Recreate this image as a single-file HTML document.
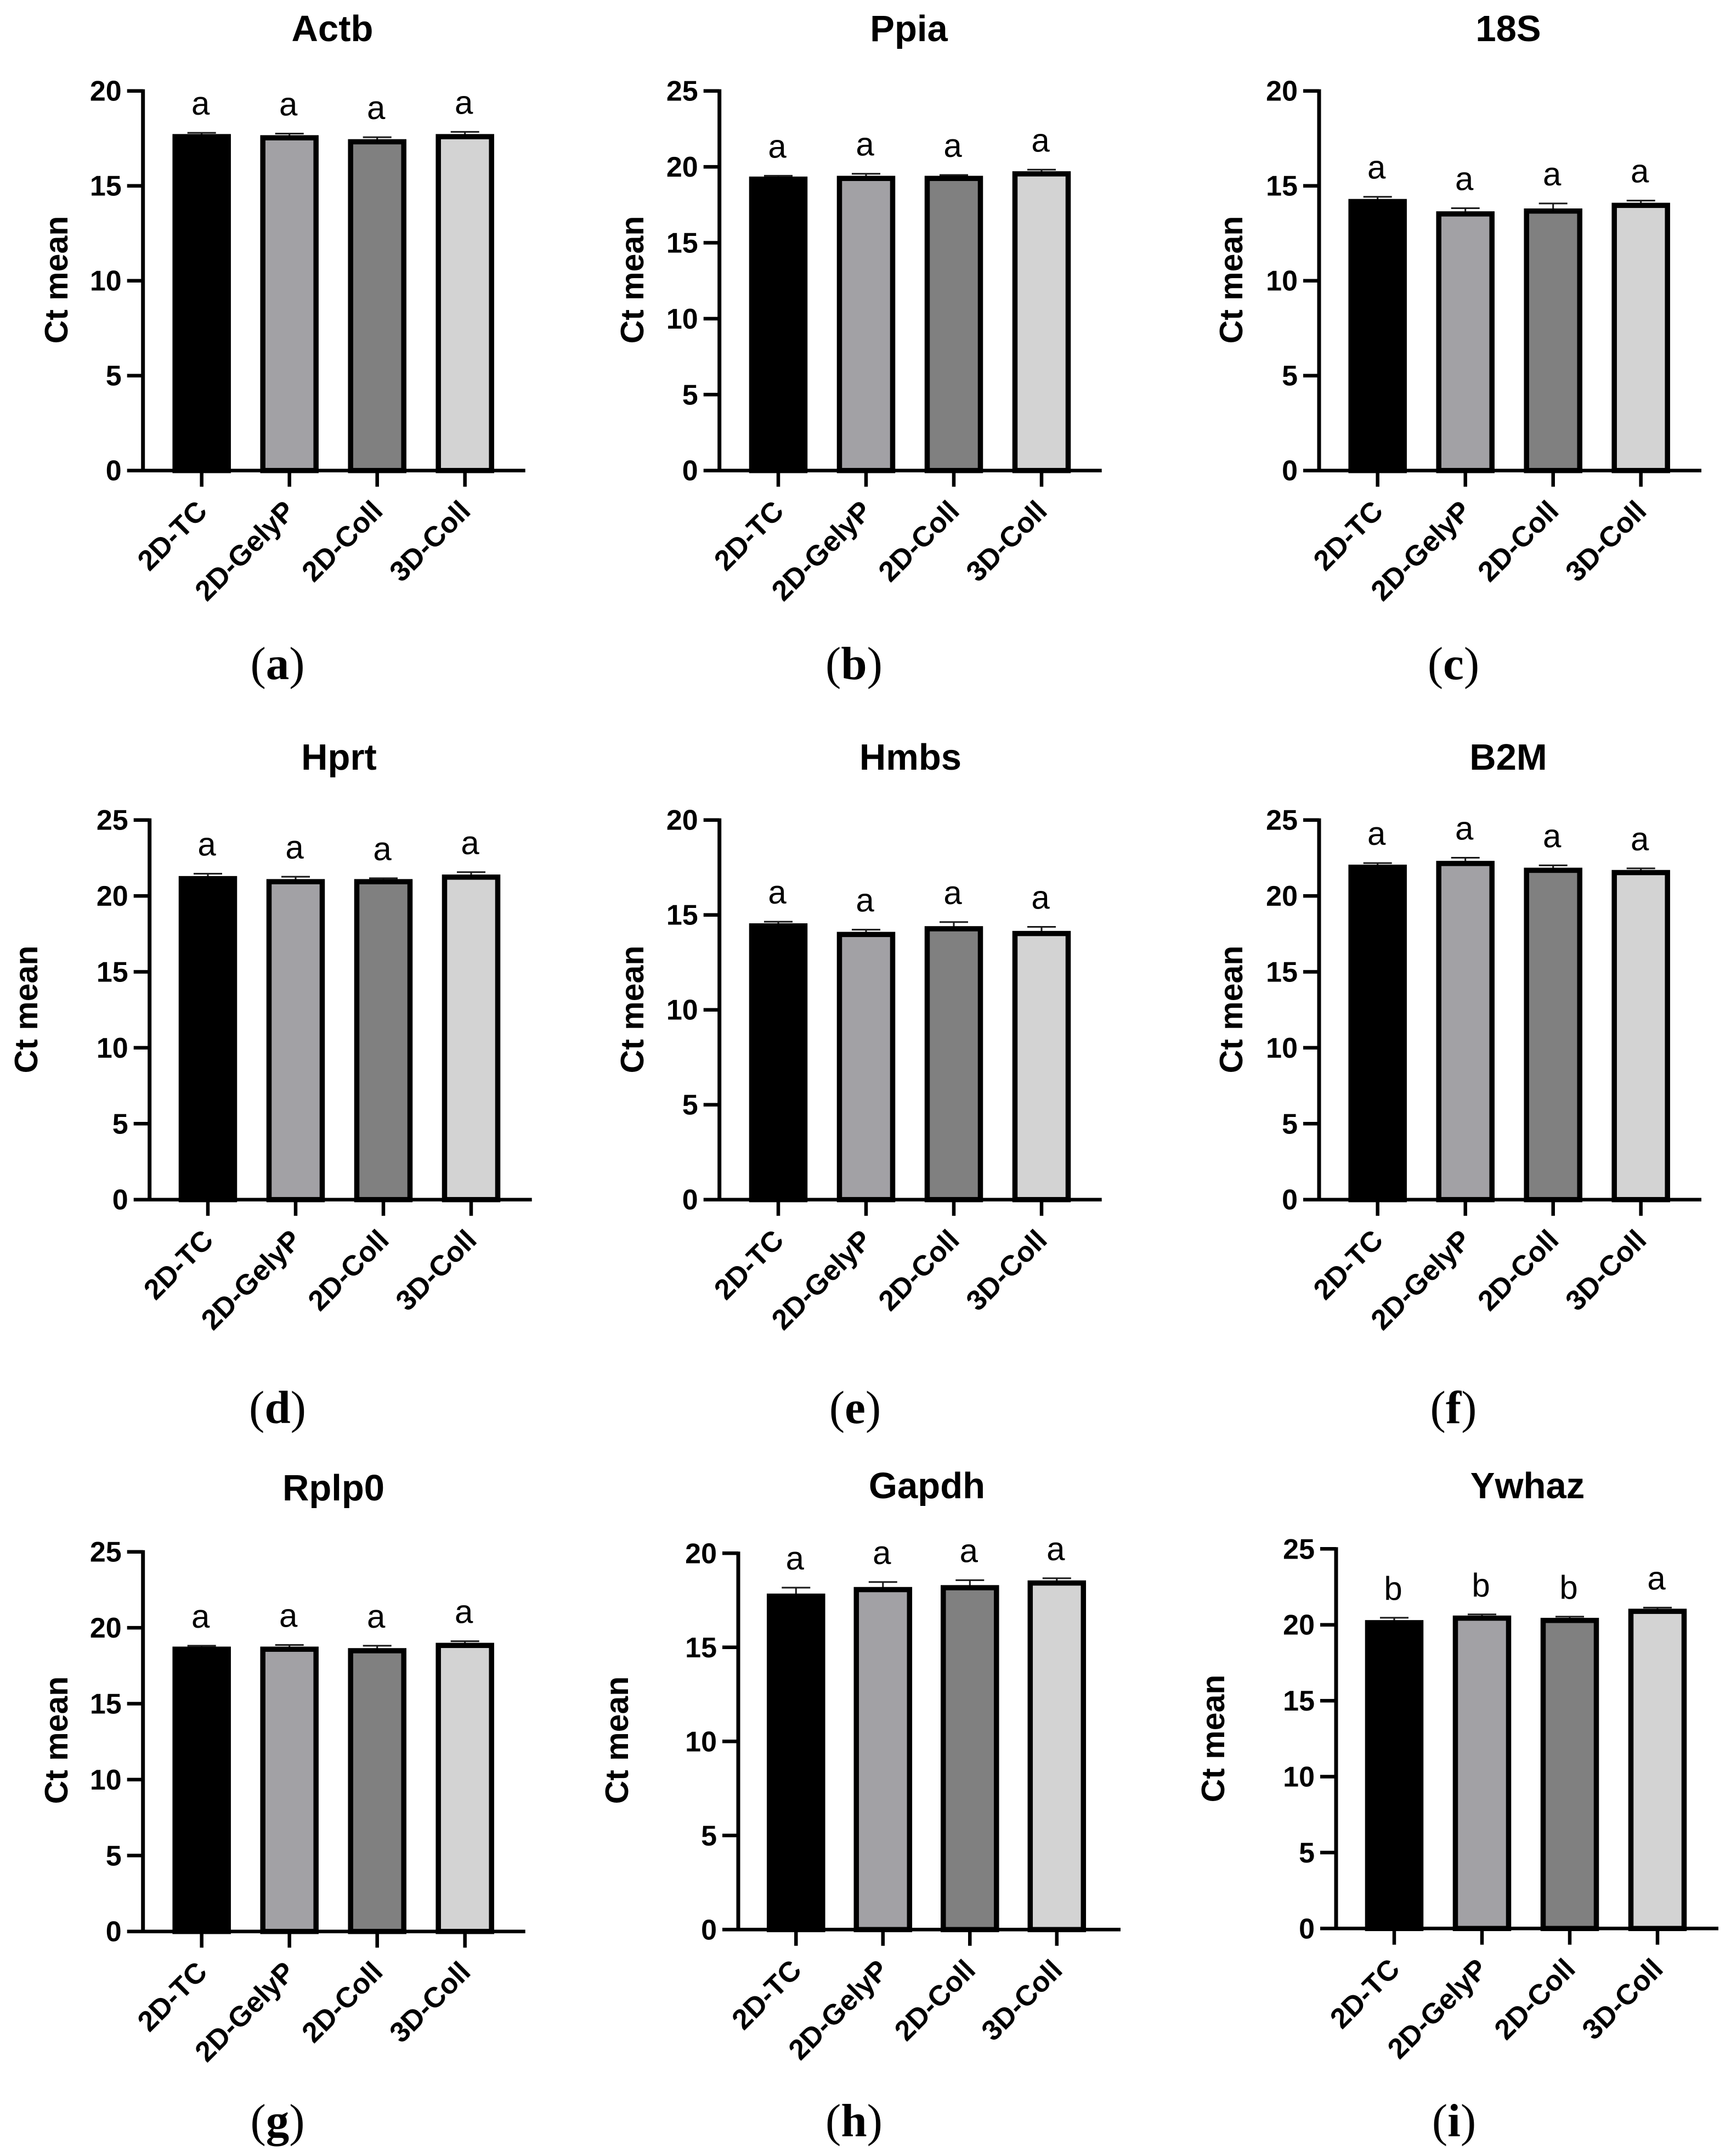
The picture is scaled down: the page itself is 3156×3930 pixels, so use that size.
<!DOCTYPE html>
<html lang="en">
<head>
<meta charset="utf-8">
<title>Ct mean of candidate reference genes</title>
<style>
html,body{margin:0;padding:0;background:#fff;}
svg{display:block;}
.sans{font-family:"Liberation Sans",Arial,sans-serif;}
.serif{font-family:"Liberation Serif","Times New Roman",serif;}
</style>
</head>
<body>
<svg id="figure" xmlns="http://www.w3.org/2000/svg" width="3156" height="3930" viewBox="0 0 3156 3930"></svg>
<script>
var categories = ['2D-TC', '2D-GelyP', '2D-Coll', '3D-Coll'];
var ticks20 = [0, 5, 10, 15, 20];
var ticks25 = [0, 5, 10, 15, 20, 25];

var actbValues = [17.72, 17.66, 17.45, 17.72];
var actbErrors = [0.1, 0.12, 0.14, 0.15];
var actbLetters = ['a', 'a', 'a', 'a'];

var ppiaValues = [19.35, 19.4, 19.4, 19.7];
var ppiaErrors = [0.1, 0.18, 0.1, 0.15];
var ppiaLetters = ['a', 'a', 'a', 'a'];

var s18Values = [14.3, 13.65, 13.8, 14.1];
var s18Errors = [0.15, 0.2, 0.3, 0.15];
var s18Letters = ['a', 'a', 'a', 'a'];

var hprtValues = [21.3, 21.1, 21.1, 21.4];
var hprtErrors = [0.2, 0.2, 0.1, 0.2];
var hprtLetters = ['a', 'a', 'a', 'a'];

var hmbsValues = [14.55, 14.1, 14.4, 14.15];
var hmbsErrors = [0.12, 0.15, 0.25, 0.25];
var hmbsLetters = ['a', 'a', 'a', 'a'];

var b2mValues = [22.05, 22.3, 21.85, 21.7];
var b2mErrors = [0.15, 0.25, 0.2, 0.15];
var b2mLetters = ['a', 'a', 'a', 'a'];

var rplp0Values = [18.75, 18.75, 18.65, 19.0];
var rplp0Errors = [0.1, 0.15, 0.2, 0.15];
var rplp0Letters = ['a', 'a', 'a', 'a'];

var gapdhValues = [17.85, 18.2, 18.3, 18.55];
var gapdhErrors = [0.35, 0.3, 0.3, 0.15];
var gapdhLetters = ['a', 'a', 'a', 'a'];

var ywhazValues = [20.3, 20.6, 20.45, 21.05];
var ywhazErrors = [0.2, 0.12, 0.12, 0.12];
var ywhazLetters = ['b', 'b', 'b', 'a'];

var barFills = ['#000000', '#a2a1a5', '#808080', '#d3d3d3'];

var svg = document.getElementById('figure');
var NS = 'http://www.w3.org/2000/svg';

function make(tag, attrs, parent, text) {
  var node = document.createElementNS(NS, tag);
  for (var k in attrs) { node.setAttribute(k, attrs[k]); }
  if (text !== undefined) { node.textContent = text; }
  parent.appendChild(node);
  return node;
}

function drawPanel(p) {
  var g = make('g', {}, svg);
  
  

  var step = p.step || 160;
  var maxVal = p.ticks[p.ticks.length - 1];
  var yScale = function (v) { return p.y0 - v / maxVal * p.len; };
  var xScale = function (i) { return p.tick0 + i * step; };

  // bars and error bars
  p.values.forEach(function (v, i) {
    var cx = xScale(i), top = yScale(v), errTop = yScale(v + p.errors[i]);
    var whisker = make('line', {x1: cx, x2: cx, y1: top, y2: errTop, stroke: '#1a1a1a', 'stroke-width': 3}, g);
    
    
    var cap = make('line', {x1: cx - 26, x2: cx + 26, y1: errTop + 1, y2: errTop + 1, stroke: '#1a1a1a', 'stroke-width': 3}, g);
    
    
    var bar = make('rect', {x: cx - 48.5, y: top + 4.5, width: 97, height: p.y0 - top - 4.5, fill: barFills[i], stroke: '#000', 'stroke-width': 9.5}, g);
    
    
    var letter = make('text', {x: cx - 2, y: errTop - 32, 'text-anchor': 'middle', 'font-size': 60, fill: '#000', 'class': 'sans'}, g, p.letters[i]);
    
    
  });

  // axes
  var yAxis = make('line', {x1: p.ax, x2: p.ax, y1: p.y0 - p.len - 3, y2: p.y0 + 3, stroke: '#000', 'stroke-width': 7}, g);
  
  
  var xAxis = make('line', {x1: p.ax - 29, x2: p.ax + 697, y1: p.y0, y2: p.y0, stroke: '#000', 'stroke-width': 6.5}, g);
  
  

  p.ticks.forEach(function (t) {
    var ty = yScale(t);
    if (t !== 0) {
      var mark = make('line', {x1: p.ax - 29, x2: p.ax, y1: ty, y2: ty, stroke: '#000', 'stroke-width': 6.5}, g);
      
      
    }
    var lab = make('text', {x: p.ax - 39, y: ty + 18, 'text-anchor': 'end', 'font-size': 52, 'font-weight': 700, fill: '#000', 'class': 'sans'}, g, String(t));
    
    
  });

  categories.forEach(function (c, i) {
    var cx = xScale(i);
    var mark = make('line', {x1: cx, x2: cx, y1: p.y0, y2: p.y0 + 29.5, stroke: '#000', 'stroke-width': 6.5}, g);
    
    
    var ax = cx + 13, ay = p.y0 + 77;
    var lab = make('text', {x: ax, y: ay, 'text-anchor': 'end', 'font-size': 52, 'font-weight': 700, fill: '#000', 'class': 'sans', transform: 'rotate(-45 ' + ax + ' ' + ay + ')'}, g, c);
    
    
  });

  var title = make('text', {x: p.titleX, y: p.titleY + 22, 'text-anchor': 'middle', 'font-size': 67, 'font-weight': 700, fill: '#000', 'class': 'sans'}, g, p.title);
  
  

  var bx = p.labelX + 18, by = p.labelY;
  var ylab = make('text', {x: bx, y: by, 'text-anchor': 'middle', 'font-size': 59, 'font-weight': 700, fill: '#000', 'class': 'sans', transform: 'rotate(-90 ' + bx + ' ' + by + ')'}, g, 'Ct mean');
  
  

  var capt = make('text', {x: p.capX, y: p.capY + 24, 'text-anchor': 'middle', 'font-size': 85, fill: '#000', 'class': 'serif'}, g);
  
  
  make('tspan', {}, capt, '(');
  make('tspan', {'font-weight': 700}, capt, p.caption);
  make('tspan', {}, capt, ')');
}

drawPanel({key: 'actb', title: 'Actb', caption: 'a', values: actbValues, errors: actbErrors, letters: actbLetters, ticks: ticks20,
  ax: 260.7, y0: 857.7, len: 692, tick0: 367.7, titleX: 606, titleY: 53, labelX: 105, labelY: 510, capX: 506, capY: 1214});
drawPanel({key: 'ppia', title: 'Ppia', caption: 'b', values: ppiaValues, errors: ppiaErrors, letters: ppiaLetters, ticks: ticks25,
  ax: 1311.7, y0: 857.7, len: 692, tick0: 1419, titleX: 1657, titleY: 53, labelX: 1155, labelY: 510, capX: 1557, capY: 1214});
drawPanel({key: '18s', title: '18S', caption: 'c', values: s18Values, errors: s18Errors, letters: s18Letters, ticks: ticks20,
  ax: 2405, y0: 857.7, len: 692, tick0: 2511.7, titleX: 2750, titleY: 53, labelX: 2247, labelY: 510, capX: 2650, capY: 1214});

drawPanel({key: 'hprt', title: 'Hprt', caption: 'd', values: hprtValues, errors: hprtErrors, letters: hprtLetters, ticks: ticks25,
  ax: 272.7, y0: 2186.7, len: 692, tick0: 379, titleX: 618, titleY: 1381, labelX: 50, labelY: 1840, capX: 506, capY: 2570});
drawPanel({key: 'hmbs', title: 'Hmbs', caption: 'e', values: hmbsValues, errors: hmbsErrors, letters: hmbsLetters, ticks: ticks20,
  ax: 1311.7, y0: 2186.7, len: 692, tick0: 1419, titleX: 1660, titleY: 1381, labelX: 1155, labelY: 1840, capX: 1559, capY: 2570});
drawPanel({key: 'b2m', title: 'B2M', caption: 'f', values: b2mValues, errors: b2mErrors, letters: b2mLetters, ticks: ticks25,
  ax: 2405, y0: 2186.7, len: 692, tick0: 2511.7, titleX: 2750, titleY: 1381, labelX: 2247, labelY: 1840, capX: 2650, capY: 2570});

drawPanel({key: 'rplp0', title: 'Rplp0', caption: 'g', values: rplp0Values, errors: rplp0Errors, letters: rplp0Letters, ticks: ticks25,
  ax: 260.7, y0: 3520.7, len: 692, tick0: 367.7, titleX: 608, titleY: 2713, labelX: 105, labelY: 3172, capX: 506, capY: 3870});
drawPanel({key: 'gapdh', title: 'Gapdh', caption: 'h', values: gapdhValues, errors: gapdhErrors, letters: gapdhLetters, ticks: ticks20,
  ax: 1346, y0: 3517.3, len: 686, step: 158.5, tick0: 1451.3, titleX: 1690, titleY: 2709, labelX: 1127, labelY: 3172, capX: 1557, capY: 3870});
drawPanel({key: 'ywhaz', title: 'Ywhaz', caption: 'i', values: ywhazValues, errors: ywhazErrors, letters: ywhazLetters, ticks: ticks25,
  ax: 2436, y0: 3515.3, len: 692, tick0: 2542, titleX: 2785, titleY: 2709, labelX: 2214, labelY: 3169, capX: 2651, capY: 3870});
</script>
</body>
</html>
